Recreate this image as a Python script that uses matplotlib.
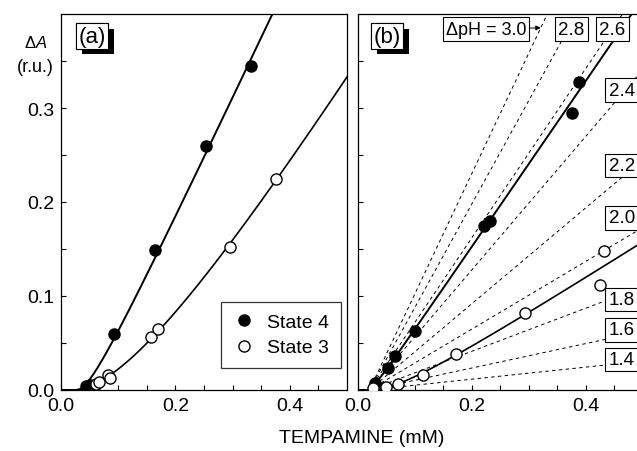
import numpy as np
import matplotlib
matplotlib.use("Agg")
import matplotlib.pyplot as plt
import matplotlib.patheffects as pe

plt.rcParams['font.family'] = ['Liberation Sans', 'DejaVu Sans']
plt.rcParams['mathtext.fontset'] = 'custom'
plt.rcParams['mathtext.rm'] = 'Liberation Sans'
plt.rcParams['mathtext.it'] = 'Liberation Sans:italic'

# panel (a) data
a_x4 = [0.043, 0.050, 0.055, 0.060, 0.093, 0.165, 0.253, 0.333]
a_y4 = [0.004, 0.005, 0.004, 0.005, 0.060, 0.149, 0.260, 0.345]
a_x3 = [0.062, 0.067, 0.082, 0.085, 0.158, 0.170, 0.295, 0.376]
a_y3 = [0.006, 0.009, 0.016, 0.013, 0.056, 0.0645, 0.152, 0.225]

# panel (b) data
b_x4 = [0.030, 0.0526, 0.0655, 0.0994, 0.221, 0.2316, 0.375, 0.388]
b_y4 = [0.0074, 0.023, 0.0358, 0.063, 0.1748, 0.180, 0.295, 0.328]
b_x3 = [0.026, 0.0497, 0.070, 0.114, 0.1725, 0.293, 0.4246, 0.432]
b_y3 = [0.002, 0.0035, 0.0064, 0.0163, 0.0383, 0.082, 0.112, 0.1475]

# dashed model lines (delta pH, slope, onset)
dph = [3.0, 2.8, 2.6, 2.4, 2.2, 2.0, 1.8, 1.6, 1.4]
dph_slope = [1.28, 1.10, 0.90, 0.71, 0.51, 0.36, 0.229, 0.13, 0.064]
dph_x0 = 0.02

# label positions (data coords of panel b)
lab_x = [0.2246, 0.375, 0.447, 0.463, 0.463, 0.463, 0.463, 0.463, 0.463]
lab_y = [0.384, 0.384, 0.384, 0.319, 0.239, 0.183, 0.096, 0.064, 0.0325]


def fit_curve(x, y):
    # threshold-then-linear shape, onset kept near the common origin
    x = np.asarray(x)
    y = np.asarray(y)
    best = None
    for x0 in np.linspace(0.015, 0.028, 14):
        d = np.clip(x - x0, 0, None)
        for c in np.linspace(0.002, 0.3, 150):
            f = d**2 / (c + d)
            k = f @ y / (f @ f)
            r = ((k * f - y)**2).sum()
            if best is None or r < best[0]:
                best = (r, x0, c, k)
    _, x0, c, k = best

    def g(xx):
        dd = np.clip(xx - x0, 0, None)
        return k * dd**2 / (c + dd)
    return g


fig = plt.figure(figsize=(6.37, 4.52), dpi=100)
ax1 = fig.add_axes([61/637, 61/452, 286/637, 376/452])
ax2 = fig.add_axes([358/637, 61/452, 279/637, 376/452])

for ax in (ax1, ax2):
    ax.set_ylim(0, 0.4)
    ax.set_yticks([0, 0.1, 0.2, 0.3])
    ax.set_yticks(np.arange(0, 0.4, 0.05), minor=True)
    ax.set_xticks([0, 0.2, 0.4])
    ax.set_xticks(np.arange(0, 0.5, 0.05), minor=True)
    ax.tick_params(which='both', direction='in', length=3.5, width=0.8,
                   labelsize=14, pad=5)
    for s in ax.spines.values():
        s.set_linewidth(0.9)
    ax.xaxis.set_major_formatter(plt.FormatStrFormatter('%.1f'))
    ax.yaxis.set_major_formatter(plt.FormatStrFormatter('%.1f'))

ax1.set_xlim(0, 0.5)
ax2.set_xlim(0, 0.49)
ax2.tick_params(labelleft=False)
ax2.spines['right'].set_visible(False)

xx = np.linspace(0, 0.5, 400)

# panel (a)
ax1.plot(xx, fit_curve(a_x4, a_y4)(xx), color='k', lw=1.4)
ax1.plot(xx, fit_curve(a_x3, a_y3)(xx), color='k', lw=1.2)
ax1.plot(a_x4, a_y4, 'o', color='k', ms=8, label='State 4', zorder=5)
ax1.plot(a_x3, a_y3, 'o', mfc='white', mec='k', mew=1.0, ms=8,
         label='State 3', zorder=5)
leg = ax1.legend(loc='lower right', bbox_to_anchor=(0.979, 0.0585),
                 borderaxespad=0, fontsize=14, fancybox=False,
                 edgecolor='k', handletextpad=0.6, handlelength=1.2,
                 borderpad=0.6, labelspacing=0.4)
leg.get_frame().set_linewidth(0.9)

# panel (b)
for s in dph_slope:
    xl = np.linspace(dph_x0, 0.49, 50)
    ax2.plot(xl, s * (xl - dph_x0), color='k', lw=0.7, dashes=(3.5, 3.5))
ax2.plot(xx, fit_curve(b_x4, b_y4)(xx), color='k', lw=1.4)
ax2.plot(xx, fit_curve(b_x3, b_y3)(xx), color='k', lw=1.2)
ax2.plot(b_x4, b_y4, 'o', color='k', ms=8, zorder=5)
ax2.plot(b_x3, b_y3, 'o', mfc='white', mec='k', mew=1.0, ms=8, zorder=5)

box = dict(boxstyle='square,pad=0.17', fc='white', ec='k', lw=0.8)
for i, (p, lx, ly) in enumerate(zip(dph, lab_x, lab_y)):
    if i == 0:
        y_arrow = dph_slope[0] * (0.321 - dph_x0)
        ax2.annotate('ΔpH = %.1f' % p, xy=(0.321, y_arrow), xytext=(lx, ly),
                     ha='center', va='center', fontsize=13, bbox=box,
                     zorder=10,
                     arrowprops=dict(arrowstyle='-|>', color='k', lw=0.7,
                                     mutation_scale=7, shrinkA=0, shrinkB=0))
    else:
        ax2.text(lx, ly, '%.1f' % p, ha='center', va='center', fontsize=13.5,
                 bbox=box, zorder=10)

# panel tags with shadow
for ax, tag, tx in ((ax1, '(a)', 0.108), (ax2, '(b)', 0.104)):
    t = ax.text(tx, 0.941, tag, transform=ax.transAxes, ha='center',
                va='center', fontsize=16, zorder=10,
                bbox=dict(boxstyle='square,pad=0.1', fc='white', ec='k',
                          lw=0.8))
    t.get_bbox_patch().set_path_effects([
        pe.withSimplePatchShadow(offset=(4.5, -4), shadow_rgbFace='k',
                                 alpha=1.0),
        pe.Normal()])

fig.text(36/637, 1 - 43/452, r'$\Delta\mathit{A}$', ha='center',
         va='center', fontsize=12)
fig.text(35/637, 1 - 68/452, '(r.u.)', ha='center', va='center',
         fontsize=13)
fig.text(362/637, 1 - 439/452, 'TEMPAMINE (mM)', ha='center', va='center',
         fontsize=14)

fig.savefig('out.png', dpi=100)
